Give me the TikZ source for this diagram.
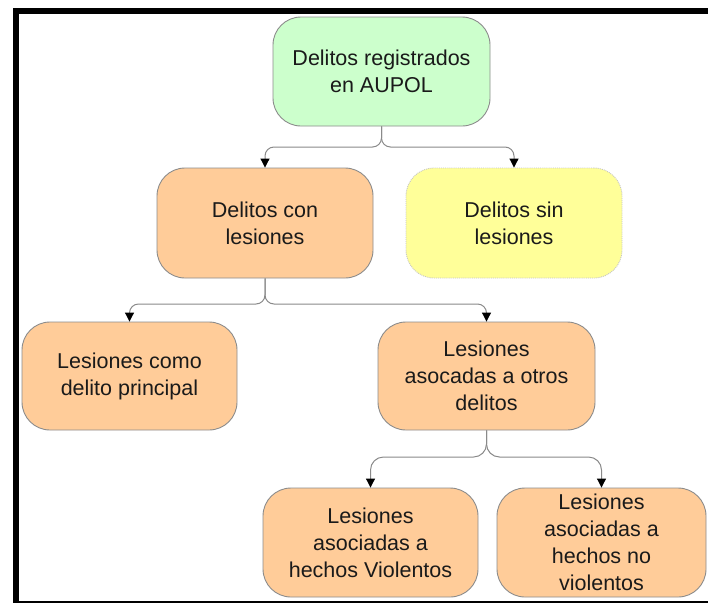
\documentclass[tikz,border=0pt]{standalone}
\usepackage{fontspec}
\setmainfont{Liberation Sans}
\usetikzlibrary{arrows.meta}
\definecolor{orangebox}{HTML}{FFCC99}
\definecolor{greenbox}{HTML}{CCFFCC}
\definecolor{yellowbox}{HTML}{FFFF99}
\definecolor{boxline}{HTML}{8C8C8C}
\definecolor{connline}{HTML}{8A8A8A}
\definecolor{txt}{HTML}{1A1A1A}
\tikzset{
  box/.style={draw=boxline, line width=0.9pt, rounded corners=28pt, align=center,
    text=txt, font=\fontsize{21.5}{27}\selectfont, inner sep=0pt},
  conn/.style={draw=connline, line width=1pt, rounded corners=9pt,
    -{Triangle[length=9pt,width=9pt,color=black]}},
}
\begin{document}
\begin{tikzpicture}[x=1pt,y=-1pt]
\useasboundingbox[fill=white] (0,0) rectangle (708,603);
% frame
\fill[black] (12.5,8) rectangle (708,14);
\fill[black] (12.5,8) rectangle (19,603);
\fill[black] (12.5,600.5) rectangle (708,603);
% nodes
\node[box, fill=greenbox, minimum width=217pt, minimum height=109pt] (top) at (381.5,71.5) {Delitos registrados\\en AUPOL};
\node[box, fill=orangebox, minimum width=216pt, minimum height=110pt] (con) at (265,223) {Delitos con\\lesiones};
\node[box, fill=yellowbox, draw=boxline!50, densely dotted, minimum width=216pt, minimum height=110pt] (sin) at (514,223) {Delitos sin\\lesiones};
\node[box, fill=orangebox, minimum width=215pt, minimum height=108pt] (como) at (129.5,376) {Lesiones como\\delito principal};
\node[box, fill=orangebox, minimum width=217pt, minimum height=108pt] (aso) at (486.5,376) {Lesiones\\asocadas a otros\\delitos};
\node[box, fill=orangebox, minimum width=215pt, minimum height=109pt] (viol) at (370.5,542.5) {Lesiones\\asociadas a\\hechos Violentos};
\node[box, fill=orangebox, minimum width=209pt, minimum height=109pt] (noviol) at (601.5,542.5) {Lesiones\\asociadas a\\hechos no\\violentos};
% junction levels
\coordinate (h1) at (0,147);
\coordinate (h2) at (0,304);
\coordinate (h3) at (0,457);
% connectors
\draw[conn] (top.south) |- (con.north |- h1) -- (con.north);
\draw[conn] (top.south) |- (sin.north |- h1) -- (sin.north);
\draw[conn] (con.south) |- (como.north |- h2) -- (como.north);
\draw[conn] (con.south) |- (aso.north |- h2) -- (aso.north);
\draw[conn, rounded corners=13pt] (aso.south) |- (viol.north |- h3) -- (viol.north);
\draw[conn, rounded corners=13pt] (aso.south) |- (noviol.north |- h3) -- (noviol.north);
\end{tikzpicture}
\end{document}
